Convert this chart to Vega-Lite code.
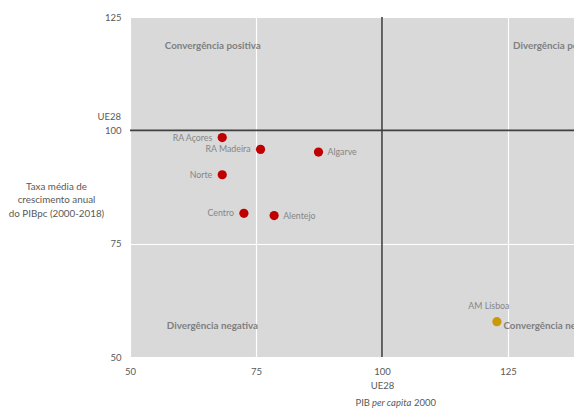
{
  "$schema": "https://vega.github.io/schema/vega-lite/v6.json",
  "width": 504,
  "height": 340,
  "autosize": {"type": "none"},
  "padding": {"left": 130, "top": 17, "right": 0, "bottom": 52},
  "background": "white",
  "config": {
    "view": {"fill": "#d9d9d9", "stroke": null},
    "font": "Lato"
  },
  "datasets": {
    "regions": [
      {"region": "RA Açores", "pib2000": 68.3, "taxa": 98.4, "grupo": "PT", "side": "left"},
      {"region": "RA Madeira", "pib2000": 75.9, "taxa": 95.8, "grupo": "PT", "side": "left"},
      {"region": "Algarve", "pib2000": 87.4, "taxa": 95.2, "grupo": "PT", "side": "right"},
      {"region": "Norte", "pib2000": 68.3, "taxa": 90.2, "grupo": "PT", "side": "left"},
      {"region": "Centro", "pib2000": 72.6, "taxa": 81.7, "grupo": "PT", "side": "left"},
      {"region": "Alentejo", "pib2000": 78.6, "taxa": 81.2, "grupo": "PT", "side": "right"},
      {"region": "AM Lisboa", "pib2000": 122.8, "taxa": 57.8, "grupo": "Lisboa", "side": "top"}
    ],
    "quadrants": [
      {"label": "Convergência positiva", "qx": 56.9, "qy": 118.6},
      {"label": "Divergência positiva", "qx": 126.0, "qy": 118.6},
      {"label": "Divergência negativa", "qx": 57.3, "qy": 56.9},
      {"label": "Convergência negativa", "qx": 124.1, "qy": 56.9}
    ],
    "ref": [{"ue": 100, "lab": "UE28"}],
    "xtitle": [
      {"part": "PIB"},
      {"part": "per capita"},
      {"part": "2000"}
    ]
  },
  "layer": [
    {
      "data": {"name": "ref"},
      "mark": {"type": "rule", "color": "#404040", "strokeWidth": 1.6},
      "encoding": {
        "x": {
          "field": "ue", "type": "quantitative",
          "scale": {"domain": [50, 150], "nice": false, "zero": false},
          "axis": {
            "values": [50, 75, 100, 125],
            "grid": true, "gridColor": "#ffffff", "gridWidth": 1.2,
            "domain": false, "ticks": false, "labelFlush": false,
            "labelColor": "#595959", "labelFontSize": 9.5, "labelPadding": 9,
            "labelLineHeight": 14,
            "labelExpr": "datum.value == 100 ? ['100', 'UE28'] : datum.label",
            "title": null
          }
        }
      }
    },
    {
      "data": {"name": "ref"},
      "mark": {"type": "rule", "color": "#404040", "strokeWidth": 1.6},
      "encoding": {
        "y": {
          "field": "ue", "type": "quantitative",
          "scale": {"domain": [50, 125], "nice": false, "zero": false},
          "axis": {
            "values": [50, 75, 100, 125],
            "grid": true, "gridColor": "#ffffff", "gridWidth": 1.2,
            "domain": false, "ticks": false,
            "labelColor": "#595959", "labelFontSize": 9.5, "labelPadding": 9,
            "title": ["Taxa média de", "crescimento anual", "do PIBpc (2000-2018)"],
            "titleColor": "#595959", "titleFontSize": 9.8, "titleFontWeight": "normal",
            "titleAngle": 0, "titleAlign": "center", "titleBaseline": "top",
            "titleX": -74, "titleY": 164, "titleLineHeight": 13.5
          }
        }
      }
    },
    {
      "data": {"name": "ref"},
      "mark": {"type": "text", "align": "right", "baseline": "middle", "dx": -9, "dy": -13, "fontSize": 9.5, "color": "#595959"},
      "encoding": {
        "x": {"datum": 50, "type": "quantitative"},
        "y": {"field": "ue", "type": "quantitative"},
        "text": {"field": "lab"}
      }
    },
    {
      "data": {"name": "xtitle"},
      "transform": [{"filter": "datum.part == 'PIB'"}],
      "mark": {"type": "text", "align": "right", "baseline": "middle", "dx": -12, "dy": 46, "fontSize": 9.5, "color": "#595959"},
      "encoding": {
        "x": {"datum": 100, "type": "quantitative"},
        "y": {"datum": 50, "type": "quantitative"},
        "text": {"field": "part"}
      }
    },
    {
      "data": {"name": "xtitle"},
      "transform": [{"filter": "datum.part == 'per capita'"}],
      "mark": {"type": "text", "align": "left", "baseline": "middle", "dx": -10, "dy": 46, "fontSize": 9.5, "fontStyle": "italic", "color": "#595959"},
      "encoding": {
        "x": {"datum": 100, "type": "quantitative"},
        "y": {"datum": 50, "type": "quantitative"},
        "text": {"field": "part"}
      }
    },
    {
      "data": {"name": "xtitle"},
      "transform": [{"filter": "datum.part == '2000'"}],
      "mark": {"type": "text", "align": "left", "baseline": "middle", "dx": 32, "dy": 46, "fontSize": 9.5, "color": "#595959"},
      "encoding": {
        "x": {"datum": 100, "type": "quantitative"},
        "y": {"datum": 50, "type": "quantitative"},
        "text": {"field": "part"}
      }
    },
    {
      "data": {"name": "quadrants"},
      "mark": {"type": "text", "align": "left", "baseline": "middle", "fontSize": 9.8, "fontWeight": "bold", "color": "#7f7f7f"},
      "encoding": {
        "x": {"field": "qx", "type": "quantitative"},
        "y": {"field": "qy", "type": "quantitative"},
        "text": {"field": "label"}
      }
    },
    {
      "data": {"name": "regions"},
      "mark": {"type": "circle", "size": 85, "opacity": 1},
      "encoding": {
        "x": {"field": "pib2000", "type": "quantitative"},
        "y": {"field": "taxa", "type": "quantitative"},
        "color": {
          "field": "grupo", "type": "nominal",
          "scale": {"domain": ["PT", "Lisboa"], "range": ["#c00000", "#c89a08"]},
          "legend": null
        }
      }
    },
    {
      "data": {"name": "regions"},
      "transform": [{"filter": "datum.side == 'left'"}],
      "mark": {"type": "text", "align": "right", "baseline": "middle", "dx": -10, "fontSize": 8.8, "color": "#858585"},
      "encoding": {
        "x": {"field": "pib2000", "type": "quantitative"},
        "y": {"field": "taxa", "type": "quantitative"},
        "text": {"field": "region"}
      }
    },
    {
      "data": {"name": "regions"},
      "transform": [{"filter": "datum.side == 'right'"}],
      "mark": {"type": "text", "align": "left", "baseline": "middle", "dx": 9, "fontSize": 8.8, "color": "#858585"},
      "encoding": {
        "x": {"field": "pib2000", "type": "quantitative"},
        "y": {"field": "taxa", "type": "quantitative"},
        "text": {"field": "region"}
      }
    },
    {
      "data": {"name": "regions"},
      "transform": [{"filter": "datum.side == 'top'"}],
      "mark": {"type": "text", "align": "center", "baseline": "middle", "dx": -8, "dy": -16, "fontSize": 8.8, "color": "#858585"},
      "encoding": {
        "x": {"field": "pib2000", "type": "quantitative"},
        "y": {"field": "taxa", "type": "quantitative"},
        "text": {"field": "region"}
      }
    }
  ]
}
